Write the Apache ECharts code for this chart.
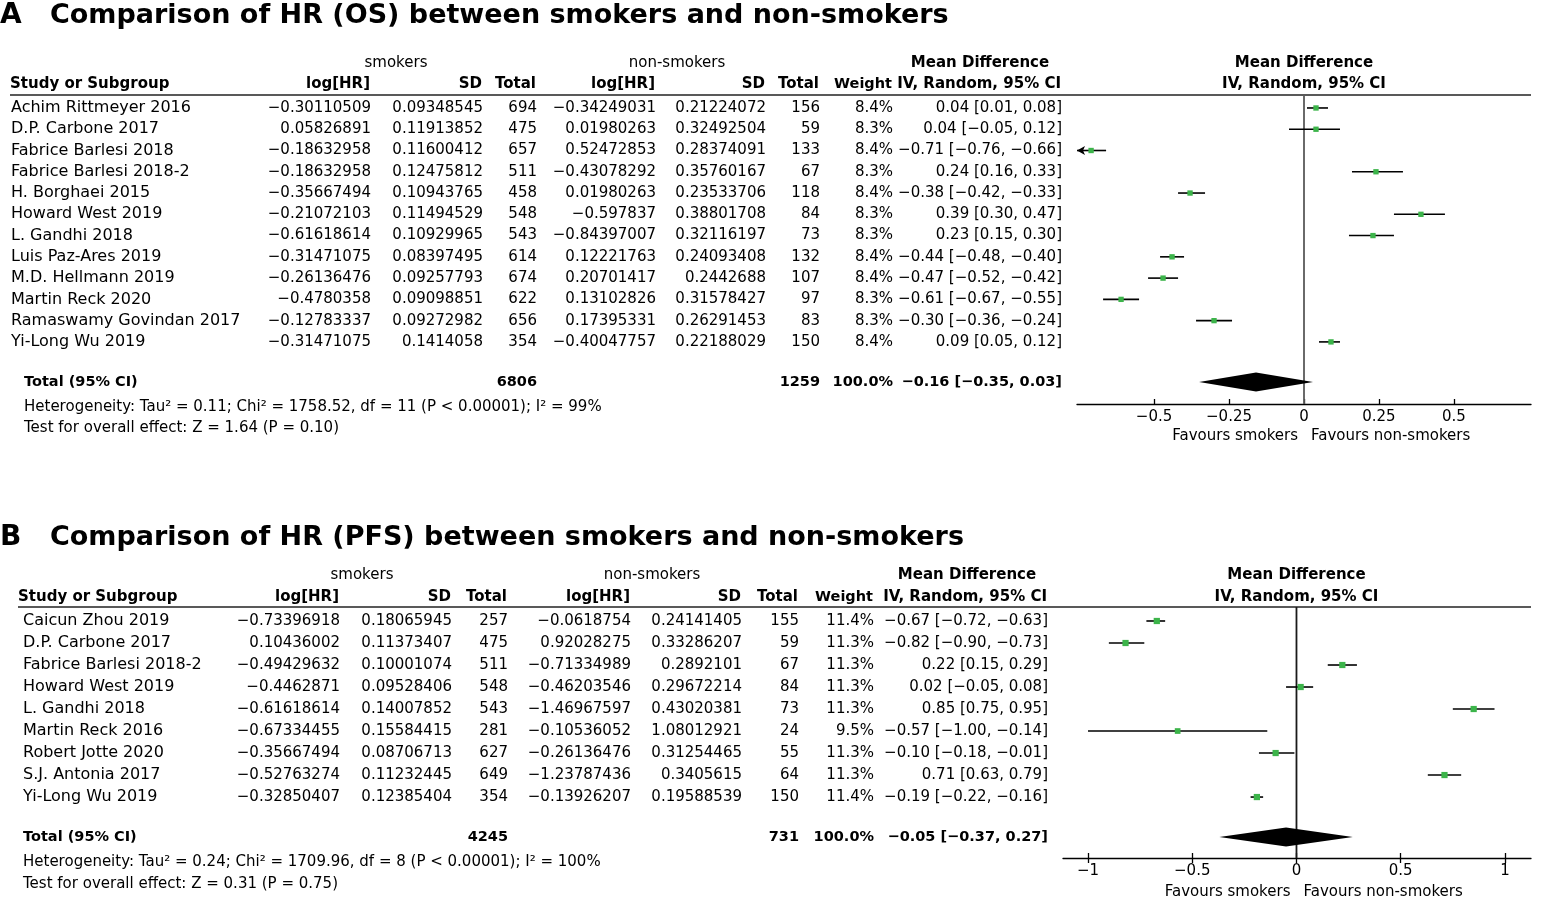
<!DOCTYPE html>
<html>
<head>
<meta charset="utf-8">
<title>HR forest plots</title>
<script src="https://cdn.jsdelivr.net/npm/echarts@6.0.0/dist/echarts.min.js"></script>
<style>
  html, body { margin: 0; padding: 0; background: #fff; }
  #chart { width: 1546px; height: 904px; }
</style>
</head>
<body>
<div id="chart"></div>
<script>
// ---- panel A: OS ----
const studiesA = ['Achim Rittmeyer 2016', 'D.P. Carbone 2017', 'Fabrice Barlesi 2018', 'Fabrice Barlesi 2018-2',
  'H. Borghaei 2015', 'Howard West 2019', 'L. Gandhi 2018', 'Luis Paz-Ares 2019', 'M.D. Hellmann 2019',
  'Martin Reck 2020', 'Ramaswamy Govindan 2017', 'Yi-Long Wu 2019']
const smkLogA = [-0.30110509, 0.05826891, -0.18632958, -0.18632958, -0.35667494, -0.21072103, -0.61618614,
  -0.31471075, -0.26136476, -0.4780358, -0.12783337, -0.31471075]
const smkSdA = [0.09348545, 0.11913852, 0.11600412, 0.12475812, 0.10943765, 0.11494529, 0.10929965,
  0.08397495, 0.09257793, 0.09098851, 0.09272982, 0.1414058]
const smkNA = [694, 475, 657, 511, 458, 548, 543, 614, 674, 622, 656, 354]
const nonLogA = [-0.34249031, 0.01980263, 0.52472853, -0.43078292, 0.01980263, -0.597837, -0.84397007,
  0.12221763, 0.20701417, 0.13102826, 0.17395331, -0.40047757]
const nonSdA = [0.21224072, 0.32492504, 0.28374091, 0.35760167, 0.23533706, 0.38801708, 0.32116197,
  0.24093408, 0.2442688, 0.31578427, 0.26291453, 0.22188029]
const nonNA = [156, 59, 133, 67, 118, 84, 73, 132, 107, 97, 83, 150]
const weightA = [8.4, 8.3, 8.4, 8.3, 8.4, 8.3, 8.3, 8.4, 8.4, 8.3, 8.3, 8.4]
const mdA = [0.04, 0.04, -0.71, 0.24, -0.38, 0.39, 0.23, -0.44, -0.47, -0.61, -0.30, 0.09]
const loA = [0.01, -0.05, -0.76, 0.16, -0.42, 0.30, 0.15, -0.48, -0.52, -0.67, -0.36, 0.05]
const hiA = [0.08, 0.12, -0.66, 0.33, -0.33, 0.47, 0.30, -0.40, -0.42, -0.55, -0.24, 0.12]
const totalA = [6806, 1259, 100.0, -0.16, -0.35, 0.03] // smokers N, non N, weight, md, lo, hi
const hetA = 'Heterogeneity: Tau\u00b2 = 0.11; Chi\u00b2 = 1758.52, df = 11 (P < 0.00001); I\u00b2 = 99%'
const testA = 'Test for overall effect: Z = 1.64 (P = 0.10)'
const ticksA = [-0.5, -0.25, 0, 0.25, 0.5]

// ---- panel B: PFS ----
const studiesB = ['Caicun Zhou 2019', 'D.P. Carbone 2017', 'Fabrice Barlesi 2018-2', 'Howard West 2019',
  'L. Gandhi 2018', 'Martin Reck 2016', 'Robert Jotte 2020', 'S.J. Antonia 2017', 'Yi-Long Wu 2019']
const smkLogB = [-0.73396918, 0.10436002, -0.49429632, -0.4462871, -0.61618614, -0.67334455, -0.35667494,
  -0.52763274, -0.32850407]
const smkSdB = [0.18065945, 0.11373407, 0.10001074, 0.09528406, 0.14007852, 0.15584415, 0.08706713,
  0.11232445, 0.12385404]
const smkNB = [257, 475, 511, 548, 543, 281, 627, 649, 354]
const nonLogB = [-0.0618754, 0.92028275, -0.71334989, -0.46203546, -1.46967597, -0.10536052, -0.26136476,
  -1.23787436, -0.13926207]
const nonSdB = [0.24141405, 0.33286207, 0.2892101, 0.29672214, 0.43020381, 1.08012921, 0.31254465,
  0.3405615, 0.19588539]
const nonNB = [155, 59, 67, 84, 73, 24, 55, 64, 150]
const weightB = [11.4, 11.3, 11.3, 11.3, 11.3, 9.5, 11.3, 11.3, 11.4]
const mdB = [-0.67, -0.82, 0.22, 0.02, 0.85, -0.57, -0.10, 0.71, -0.19]
const loB = [-0.72, -0.90, 0.15, -0.05, 0.75, -1.00, -0.18, 0.63, -0.22]
const hiB = [-0.63, -0.73, 0.29, 0.08, 0.95, -0.14, -0.01, 0.79, -0.16]
const totalB = [4245, 731, 100.0, -0.05, -0.37, 0.27]
const hetB = 'Heterogeneity: Tau\u00b2 = 0.24; Chi\u00b2 = 1709.96, df = 8 (P < 0.00001); I\u00b2 = 100%'
const testB = 'Test for overall effect: Z = 0.31 (P = 0.75)'
const ticksB = [-1, -0.5, 0, 0.5, 1]

const FONT = 'DejaVu Sans'
const GREEN = '#3cb44a'

function minus(v) { return String(v).replace('-', '\u2212') }
function f2(v) { return minus(v.toFixed(2)) }

const panels = [
  {
    letter: 'A', title: 'Comparison of HR (OS) between smokers and non-smokers', titleY: 16,
    studies: studiesA, smkLog: smkLogA, smkSd: smkSdA, smkN: smkNA, nonLog: nonLogA, nonSd: nonSdA, nonN: nonNA,
    weight: weightA, md: mdA, lo: loA, hi: hiA, total: totalA, het: hetA, test: testA, ticks: ticksA,
    grid: { left: 1077, top: 95, width: 454, height: 309 },
    xMin: -0.757, xMax: 0.757, yMin: -0.61, yMax: 13.92, totalRow: 12.88,
    nameX: 11, footX: 24, ruleX: 10,
    cols: [371, 483, 537, 656, 766, 820, 893, 1062], groupX: [396, 677, 980],
    head1Y: 63, head2Y: 84, hetY: 407, testY: 428, favY: 436,
    zeroColor: '#5a5a5a', straddle: false
  },
  {
    letter: 'B', title: 'Comparison of HR (PFS) between smokers and non-smokers', titleY: 538,
    studies: studiesB, smkLog: smkLogB, smkSd: smkSdB, smkN: smkNB, nonLog: nonLogB, nonSd: nonSdB, nonN: nonNB,
    weight: weightB, md: mdB, lo: loB, hi: hiB, total: totalB, het: hetB, test: testB, ticks: ticksB,
    grid: { left: 1063, top: 607, width: 468, height: 251 },
    xMin: -1.12, xMax: 1.125, yMin: -0.636, yMax: 10.77, totalRow: 9.82,
    nameX: 23, footX: 23, ruleX: 18,
    cols: [340, 452, 508, 631, 742, 799, 874, 1048], groupX: [362, 652, 967],
    head1Y: 575, head2Y: 597, hetY: 862, testY: 884, favY: 892,
    zeroColor: '#1a1a1a', straddle: true
  }
]

function studyRenderer(p) {
  return function (params, api) {
    const y = api.value(3)
    const loV = api.value(1), hiV = api.value(2)
    const a = api.coord([Math.max(loV, p.xMin), y])
    const b = api.coord([Math.min(hiV, p.xMax), y])
    const c = api.coord([api.value(0), y])
    const s = 1.85 * Math.sqrt(api.value(4))
    const kids = [{
      type: 'line', shape: { x1: a[0], y1: a[1], x2: b[0], y2: b[1] },
      style: { stroke: '#000', lineWidth: 1.6 }
    }]
    if (loV < p.xMin) {
      kids.push({ type: 'polygon', shape: { points: [[a[0], a[1]], [a[0] + 8, a[1] - 4.5], [a[0] + 6, a[1]], [a[0] + 8, a[1] + 4.5]] }, style: { fill: '#000' } })
    }
    if (hiV > p.xMax) {
      kids.push({ type: 'polygon', shape: { points: [[b[0], b[1]], [b[0] - 8, b[1] - 4.5], [b[0] - 6, b[1]], [b[0] - 8, b[1] + 4.5]] }, style: { fill: '#000' } })
    }
    kids.push({ type: 'rect', shape: { x: c[0] - s / 2, y: c[1] - s / 2, width: s, height: s }, style: { fill: GREEN } })
    return { type: 'group', children: kids }
  }
}

function diamondRenderer(params, api) {
  const y = api.value(3)
  const l = api.coord([api.value(1), y])
  const m = api.coord([api.value(0), y])
  const r = api.coord([api.value(2), y])
  return {
    type: 'polygon',
    shape: { points: [l, [m[0], m[1] - 9.5], r, [m[0], m[1] + 9.5]] },
    style: { fill: '#000' }
  }
}

const grids = [], xAxes = [], yAxes = [], series = []
panels.forEach((p, k) => {
  grids.push({ left: p.grid.left, top: p.grid.top, width: p.grid.width, height: p.grid.height,
    containLabel: false, outerBoundsMode: 'none' })
  p.xIdx = xAxes.length
  xAxes.push({
    gridIndex: k, type: 'value', position: 'bottom', min: p.xMin, max: p.xMax,
    splitLine: { show: false },
    axisLine: { onZero: false, lineStyle: { color: '#000', width: 1.3 } },
    axisTick: { inside: true, length: 5, customValues: p.ticks, lineStyle: { color: '#000', width: 1.3 } },
    axisLabel: { customValues: p.ticks, formatter: v => minus(v), fontFamily: FONT, fontSize: 15, color: '#000', margin: 6 }
  })
  if (p.straddle) {
    xAxes.push({
      gridIndex: k, type: 'value', position: 'bottom', min: p.xMin, max: p.xMax,
      splitLine: { show: false }, axisLine: { show: false, onZero: false }, axisLabel: { show: false },
      axisTick: { inside: false, length: 5, customValues: p.ticks, lineStyle: { color: '#000', width: 1.3 } }
    })
  }
  yAxes.push({ gridIndex: k, type: 'value', inverse: true, min: p.yMin, max: p.yMax, show: false })

  series.push({
    type: 'line', xAxisIndex: p.xIdx, yAxisIndex: k, symbol: 'none', silent: true, z: 1,
    data: [[0, p.yMin], [0, p.yMax]],
    lineStyle: { color: p.zeroColor, width: 1.8 }
  })
  series.push({
    type: 'custom', xAxisIndex: p.xIdx, yAxisIndex: k, silent: true, z: 3,
    renderItem: studyRenderer(p),
    data: p.md.map((m, i) => [m, p.lo[i], p.hi[i], i, p.weight[i]])
  })
  series.push({
    type: 'custom', xAxisIndex: p.xIdx, yAxisIndex: k, silent: true, z: 3,
    renderItem: diamondRenderer,
    data: [[p.total[3], p.total[4], p.total[5], p.totalRow]]
  })
})

const chart = echarts.init(document.getElementById('chart'))
chart.setOption({
  animation: false,
  backgroundColor: '#fff',
  grid: grids, xAxis: xAxes, yAxis: yAxes, series: series
})

function txt(text, x, y, o) {
  o = o || {}
  return {
    type: 'text', x: x, y: y, silent: true,
    style: {
      text: text, fill: '#000',
      fontFamily: o.family || FONT, fontSize: o.size || 15, fontWeight: o.weight || 'normal',
      align: o.align || 'left', verticalAlign: 'middle'
    }
  }
}

const elements = []
panels.forEach((p, k) => {
  const px = (x, y) => chart.convertToPixel({ xAxisIndex: p.xIdx, yAxisIndex: k }, [x, y])
  const zeroX = px(0, 0)[0]
  const ruleY = px(0, p.yMin)[1]
  const B = { weight: 'bold' }

  // title
  elements.push(txt(p.letter, 0, p.titleY, { size: 28, weight: 'bold' }))
  elements.push(txt(p.title, 50, p.titleY, { size: 27, weight: 'bold' }))

  // headers
  elements.push(txt('smokers', p.groupX[0], p.head1Y, { align: 'center' }))
  elements.push(txt('non-smokers', p.groupX[1], p.head1Y, { align: 'center' }))
  elements.push(txt('Mean Difference', p.groupX[2], p.head1Y, { align: 'center', weight: 'bold' }))
  elements.push(txt('Mean Difference', zeroX, p.head1Y, { align: 'center', weight: 'bold' }))
  elements.push(txt('Study or Subgroup', p.ruleX, p.head2Y, B))
  const head2 = ['log[HR]', 'SD', 'Total', 'log[HR]', 'SD', 'Total', 'Weight', 'IV, Random, 95% CI']
  head2.forEach((h, j) => elements.push(txt(h, p.cols[j] - 1, p.head2Y, { align: 'right', weight: 'bold', size: j === 6 ? 14.5 : 15 })))
  elements.push(txt('IV, Random, 95% CI', zeroX, p.head2Y, { align: 'center', weight: 'bold' }))
  elements.push({
    type: 'line', silent: true,
    shape: { x1: p.ruleX, y1: ruleY, x2: p.grid.left + p.grid.width, y2: ruleY },
    style: { stroke: '#222', lineWidth: 1.5 }
  })

  // study rows
  p.studies.forEach((s, i) => {
    const y = px(0, i)[1]
    const cells = [minus(p.smkLog[i]), minus(p.smkSd[i]), String(p.smkN[i]),
      minus(p.nonLog[i]), minus(p.nonSd[i]), String(p.nonN[i]),
      p.weight[i].toFixed(1) + '%', f2(p.md[i]) + ' [' + f2(p.lo[i]) + ', ' + f2(p.hi[i]) + ']']
    elements.push(txt(s, p.nameX, y, { size: 16 }))
    cells.forEach((c, j) => elements.push(txt(c, p.cols[j], y, { align: 'right' })))
  })

  // total row
  const ty = px(0, p.totalRow)[1]
  const tb = { weight: 'bold', size: 14.5, align: 'right' }
  elements.push(txt('Total (95% CI)', p.footX, ty, { weight: 'bold', size: 14.5 }))
  elements.push(txt(String(p.total[0]), p.cols[2], ty, tb))
  elements.push(txt(String(p.total[1]), p.cols[5], ty, tb))
  elements.push(txt(p.total[2].toFixed(1) + '%', p.cols[6], ty, tb))
  elements.push(txt(f2(p.total[3]) + ' [' + f2(p.total[4]) + ', ' + f2(p.total[5]) + ']', p.cols[7], ty, tb))

  // footnotes
  elements.push(txt(p.het, p.footX, p.hetY, { size: 15 }))
  elements.push(txt(p.test, p.footX, p.testY, { size: 15 }))

  // favours labels
  elements.push(txt('Favours smokers', zeroX - 6, p.favY, { align: 'right' }))
  elements.push(txt('Favours non-smokers', zeroX + 7, p.favY))
})

chart.setOption({ graphic: elements })
</script>
</body>
</html>
